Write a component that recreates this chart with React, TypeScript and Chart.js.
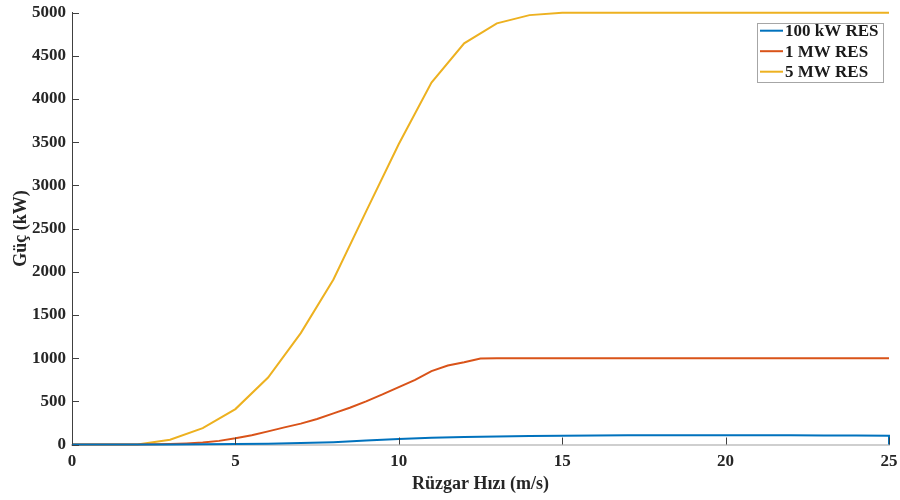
import React, { useEffect, useRef } from "react";
import { Chart, registerables } from "chart.js";

Chart.register(...registerables);

const seriesNames = ["100 kW RES", "1 MW RES", "5 MW RES"];
const seriesColors = ["#0072BD", "#D95319", "#EDB120"];

// 100 kW RES (wind speed, power)
const speed100kW = [0, 1, 2, 3, 4, 5, 6, 7, 8, 9, 10, 11, 12, 13, 14, 15, 16, 17, 18, 19, 20, 21, 22, 23, 24, 25, 25];
const power100kW = [0, 0, 0, 0, 2, 5, 10, 17, 27, 45, 64, 78, 87, 93, 97, 100, 104, 106, 108, 108, 108, 107, 106, 104, 103, 102, 0];

// 1 MW RES
const speed1MW = [0, 1, 2, 2.5, 3, 3.5, 4, 4.5, 5, 5.5, 6, 6.5, 7, 7.5, 8, 8.5, 9, 9.5, 10, 10.5, 11, 11.5, 12, 12.5, 13, 15, 20, 25];
const power1MW = [0, 0, 0, 2, 6, 12, 22, 42, 72, 108, 152, 198, 242, 296, 360, 425, 500, 580, 665, 748, 850, 915, 952, 995, 1000, 1000, 1000, 1000];

// 5 MW RES
const speed5MW = [0, 1, 2, 3, 4, 5, 6, 7, 8, 9, 10, 11, 12, 13, 14, 15, 16, 17, 18, 19, 20, 21, 22, 23, 24, 25];
const power5MW = [0, 0, 0, 55, 190, 410, 775, 1290, 1910, 2700, 3480, 4190, 4645, 4877, 4972, 5000, 5000, 5000, 5000, 5000, 5000, 5000, 5000, 5000, 5000, 5000];

const xTickValues = [0, 5, 10, 15, 20, 25];
const yTickValues = [0, 500, 1000, 1500, 2000, 2500, 3000, 3500, 4000, 4500, 5000];

const xTitle = "Rüzgar Hızı (m/s)";
const yTitle = "Güç (kW)";

const FONT = '"Liberation Serif", "Times New Roman", serif';

const toPoints = (xs: number[], ys: number[]) => xs.map((x, i) => ({ x, y: ys[i] }));

const innerTicks = {
  id: "innerTicks",
  afterDatasetsDraw(chart: any) {
    const { ctx, chartArea, scales } = chart;
    ctx.save();
    ctx.strokeStyle = "#404040";
    ctx.lineWidth = 1;
    xTickValues.forEach((v) => {
      const px = Math.round(scales.x.getPixelForValue(v)) + 0.5;
      ctx.beginPath();
      ctx.moveTo(px, chartArea.bottom);
      ctx.lineTo(px, chartArea.bottom - 7);
      ctx.stroke();
    });
    yTickValues.forEach((v) => {
      const py = Math.round(scales.y.getPixelForValue(v)) + 0.5;
      ctx.beginPath();
      ctx.moveTo(chartArea.left, py);
      ctx.lineTo(chartArea.left + 7, py);
      ctx.stroke();
    });
    ctx.restore();
  },
};

const boxLegend = {
  id: "boxLegend",
  afterDraw(chart: any) {
    const { ctx, chartArea } = chart;
    const w = 126;
    const h = 59;
    const left = chartArea.right - 6 - w;
    const top = chartArea.top + 10.5;
    ctx.save();
    ctx.fillStyle = "#ffffff";
    ctx.fillRect(left, top, w, h);
    ctx.strokeStyle = "#a6a6a6";
    ctx.lineWidth = 1;
    ctx.strokeRect(Math.round(left) + 0.5, Math.round(top) + 0.5, w, h);
    ctx.font = `bold 17px ${FONT}`;
    ctx.textBaseline = "middle";
    ctx.textAlign = "left";
    seriesNames.forEach((name, i) => {
      const y = top + 7.5 + i * 20.5;
      ctx.strokeStyle = seriesColors[i];
      ctx.lineWidth = 2;
      ctx.beginPath();
      ctx.moveTo(left + 3, y);
      ctx.lineTo(left + 26, y);
      ctx.stroke();
      ctx.fillStyle = "#1a1a1a";
      ctx.fillText(name, left + 28, y + 1);
    });
    ctx.restore();
  },
};

export default function App() {
  const ref = useRef<HTMLCanvasElement | null>(null);

  useEffect(() => {
    if (!ref.current) return;
    const series = [
      toPoints(speed100kW, power100kW),
      toPoints(speed1MW, power1MW),
      toPoints(speed5MW, power5MW),
    ];
    const chart = new Chart(ref.current, {
      type: "scatter",
      data: {
        datasets: series.map((pts, i) => ({
          label: seriesNames[i],
          data: pts,
          showLine: true,
          borderColor: seriesColors[i],
          backgroundColor: seriesColors[i],
          borderWidth: 2,
          pointRadius: 0,
          tension: 0,
          clip: 4,
        })),
      },
      options: {
        responsive: false,
        animation: false,
        layout: { padding: { top: 12.7, right: 11, left: 0, bottom: 0 } },
        plugins: {
          legend: { display: false },
          tooltip: { enabled: false },
        },
        scales: {
          x: {
            type: "linear",
            min: 0,
            max: 25,
            afterFit: (s: any) => {
              s.height = 55.5;
              s.paddingLeft = 0;
              s.paddingRight = 0;
            },
            afterBuildTicks: (s: any) => {
              s.ticks = xTickValues.map((v) => ({ value: v }));
            },
            grid: { display: false, drawTicks: false },
            border: { display: true, color: "#cfcfcf", width: 2 },
            ticks: {
              padding: 7,
              color: "#262626",
              font: { family: FONT, size: 17, weight: "bold" },
              maxRotation: 0,
              callback: (v: any) => String(v),
            },
            title: {
              display: true,
              text: xTitle,
              color: "#262626",
              font: { family: FONT, size: 18, weight: "bold" },
              padding: { top: 0, bottom: 5 },
            },
          },
          y: {
            type: "linear",
            min: 0,
            max: 5000,
            afterFit: (s: any) => {
              s.width = 72;
              s.paddingTop = 0;
              s.paddingBottom = 0;
            },
            afterBuildTicks: (s: any) => {
              s.ticks = yTickValues.map((v) => ({ value: v }));
            },
            grid: { display: false, drawTicks: false },
            border: { display: true, color: "#404040", width: 1 },
            ticks: {
              padding: 6,
              color: "#262626",
              font: { family: FONT, size: 17, weight: "bold" },
              callback: (v: any) => String(v),
            },
            title: {
              display: true,
              text: yTitle,
              color: "#262626",
              font: { family: FONT, size: 18, weight: "bold" },
              padding: { top: 11, bottom: 0 },
            },
          },
        },
      },
      plugins: [innerTicks, boxLegend],
    });
    return () => chart.destroy();
  }, []);

  return (
    <div style={{ position: "fixed", left: 0, top: 0, width: 900, height: 500, background: "#ffffff" }}>
      <canvas ref={ref} width={900} height={500} />
    </div>
  );
}
